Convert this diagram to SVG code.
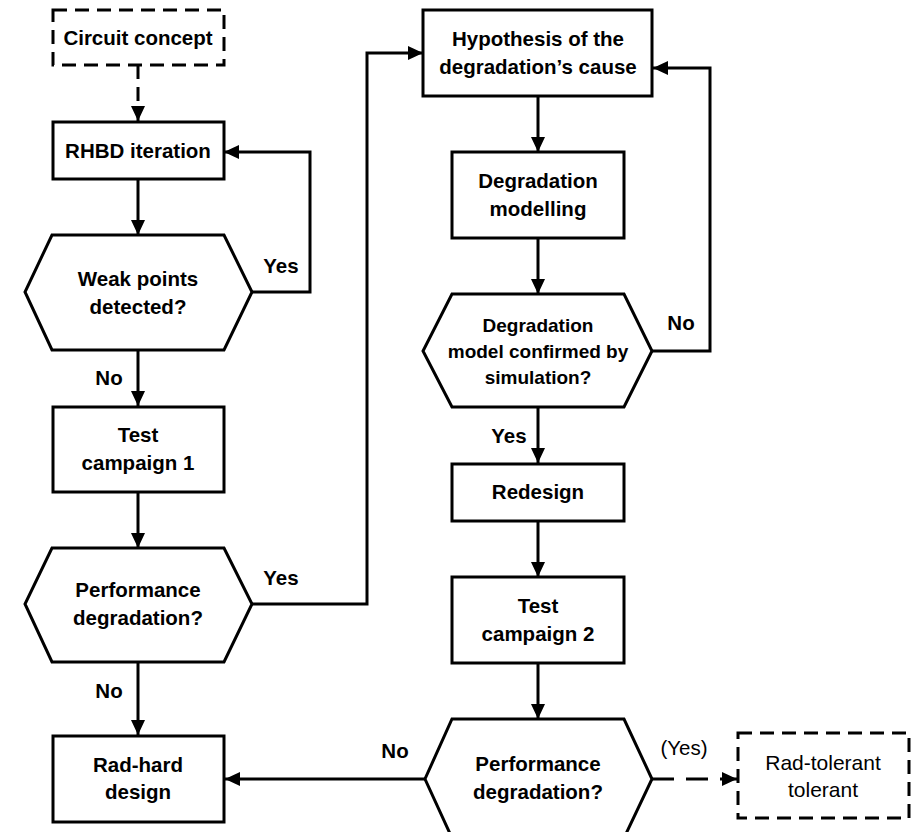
<svg xmlns="http://www.w3.org/2000/svg" width="923" height="832" viewBox="0 0 923 832">
<defs>
<marker id="arr" markerUnits="userSpaceOnUse" markerWidth="16" markerHeight="16" viewBox="0 0 16 16" refX="15" refY="8" orient="auto">
<path d="M0,1 L15,8 L0,15 Z" fill="#000"/>
</marker>
</defs>
<style>
.n{fill:#fff;stroke:#000;stroke-width:3}
.d{stroke-dasharray:14 8}
.t{font-family:"Liberation Sans",Arial,sans-serif;font-size:20.5px;font-weight:bold;text-anchor:middle;fill:#000}
.s{font-size:19px}
.r{font-weight:normal}
.c{fill:none;stroke:#000;stroke-width:3}
</style>
<rect width="923" height="832" fill="#fff"/>
<g id="connectors">
<path class="c d" d="M138,65 V121" marker-end="url(#arr)"/>
<path class="c" d="M138,179 V235" marker-end="url(#arr)"/>
<path class="c" d="M252,292 H310 V152 H224" marker-end="url(#arr)"/>
<path class="c" d="M138,350 V406" marker-end="url(#arr)"/>
<path class="c" d="M138,492 V548" marker-end="url(#arr)"/>
<path class="c" d="M252,604 H367 V53 H423" marker-end="url(#arr)"/>
<path class="c" d="M138,662 V735" marker-end="url(#arr)"/>
<path class="c" d="M538,96 V152" marker-end="url(#arr)"/>
<path class="c" d="M538,238 V294" marker-end="url(#arr)"/>
<path class="c" d="M652,351 H710 V68 H653" marker-end="url(#arr)"/>
<path class="c" d="M538,407 V463" marker-end="url(#arr)"/>
<path class="c" d="M538,521 V577" marker-end="url(#arr)"/>
<path class="c" d="M538,663 V719" marker-end="url(#arr)"/>
<path class="c" d="M425,779 H225" marker-end="url(#arr)"/>
<path class="c" d="M652,779 H737" stroke-dasharray="22 12" marker-end="url(#arr)"/>
<text class="t" x="281" y="273">Yes</text>
<text class="t" x="109" y="385">No</text>
<text class="t" x="281" y="585">Yes</text>
<text class="t" x="109" y="698">No</text>
<text class="t" x="395" y="758">No</text>
<text class="t" x="681" y="330">No</text>
<text class="t" x="509" y="443">Yes</text>
<text class="t r" x="684" y="755">(Yes)</text>
</g>
<g id="circuit-concept">
<rect class="n d" x="53" y="10" width="171" height="55"/>
<text class="t" x="138" y="45">Circuit concept</text>
</g>
<g id="rhbd-iteration">
<rect class="n" x="53" y="122" width="171" height="57"/>
<text class="t" x="138" y="158">RHBD iteration</text>
</g>
<g id="weak-points">
<polygon class="n" points="52,235 224,235 252,292 224,350 52,350 25,292"/>
<text class="t" x="138" y="286">Weak points</text>
<text class="t" x="138" y="314">detected?</text>
</g>
<g id="test-campaign-1">
<rect class="n" x="53" y="407" width="171" height="85"/>
<text class="t" x="138" y="442">Test</text>
<text class="t" x="138" y="470">campaign 1</text>
</g>
<g id="performance-1">
<polygon class="n" points="52,548 224,548 252,604 224,662 52,662 25,604"/>
<text class="t" x="138" y="597">Performance</text>
<text class="t" x="138" y="625">degradation?</text>
</g>
<g id="rad-hard">
<rect class="n" x="53" y="736" width="171" height="86"/>
<text class="t" x="138" y="772">Rad-hard</text>
<text class="t" x="138" y="799">design</text>
</g>
<g id="hypothesis">
<rect class="n" x="423" y="10" width="229" height="86"/>
<text class="t" x="538" y="46">Hypothesis of the</text>
<text class="t" x="538" y="74">degradation’s cause</text>
</g>
<g id="degradation-modelling">
<rect class="n" x="452" y="152" width="172" height="86"/>
<text class="t" x="538" y="188">Degradation</text>
<text class="t" x="538" y="216">modelling</text>
</g>
<g id="model-confirmed">
<polygon class="n" points="452,294 624,294 652,351 624,407 452,407 423,351"/>
<text class="t s" x="538" y="332">Degradation</text>
<text class="t s" x="538" y="358">model confirmed by</text>
<text class="t s" x="538" y="384">simulation?</text>
</g>
<g id="redesign">
<rect class="n" x="452" y="464" width="172" height="57"/>
<text class="t" x="538" y="499">Redesign</text>
</g>
<g id="test-campaign-2">
<rect class="n" x="452" y="577" width="172" height="86"/>
<text class="t" x="538" y="613">Test</text>
<text class="t" x="538" y="641">campaign 2</text>
</g>
<g id="performance-2">
<polygon class="n" points="452,719 624,719 652,779 624,838 452,838 425,779"/>
<text class="t" x="538" y="771">Performance</text>
<text class="t" x="538" y="799">degradation?</text>
</g>
<g id="rad-tolerant">
<rect class="n d" x="738" y="733" width="171" height="85"/>
<text class="t r" x="823" y="770" style="font-size:21px">Rad-tolerant</text>
<text class="t r" x="823" y="797" style="font-size:21px">tolerant</text>
</g>
</svg>
